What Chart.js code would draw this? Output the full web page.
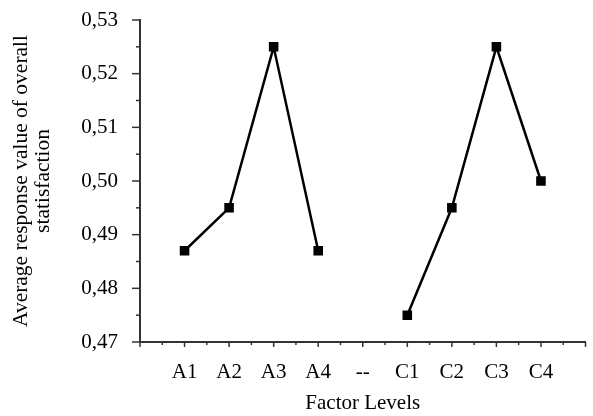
<!DOCTYPE html>
<html>
<head>
<meta charset="utf-8">
<script src="https://cdn.jsdelivr.net/npm/chart.js@4"></script>
<style>
  html, body { margin: 0; padding: 0; background: #fff; }
  #wrap { width: 593px; height: 416px; }
</style>
</head>
<body>
<div id="wrap"><canvas id="myChart"></canvas></div>
<script>
// factor levels along the x axis ('--' is the empty separator slot)
var levels = ['A1', 'A2', 'A3', 'A4', '--', 'C1', 'C2', 'C3', 'C4'];
// average response value of overall satisfaction per level
var responses = [0.487, 0.495, 0.525, 0.487, null, 0.475, 0.495, 0.525, 0.500];
var yMin = 0.47, yMax = 0.53;

var points = levels.map(function (l, i) { return {x: i + 1, y: responses[i]}; });

var axisColor = '#333';
var fontFam = '"Liberation Serif", "Times New Roman", serif';

// no extra edge padding from the tick labels
function noPad(s) {
  s.paddingTop = 0; s.paddingBottom = 0; s.paddingLeft = 0; s.paddingRight = 0;
}

// small tick marks: longer on whole steps, shorter half steps
var tickMarks = {
  id: 'tickMarks',
  afterDraw: function (chart) {
    var c = chart.ctx;
    c.save();
    c.strokeStyle = axisColor;
    c.lineWidth = 1.5;
    var xs = chart.scales.x, ys = chart.scales.y;
    xs.ticks.forEach(function (t) {
      var px = xs.getPixelForValue(t.value);
      var len = Number.isInteger(t.value) ? 5 : 3;
      c.beginPath(); c.moveTo(px, xs.top); c.lineTo(px, xs.top + len); c.stroke();
    });
    ys.ticks.forEach(function (t) {
      var py = ys.getPixelForValue(t.value);
      var major = Math.abs(Math.round(t.value * 100) - t.value * 100) < 1e-6;
      var len = major ? 8 : 4;
      c.beginPath(); c.moveTo(ys.right, py); c.lineTo(ys.right - len, py); c.stroke();
    });
    c.restore();
  }
};

var ctx = document.getElementById('myChart').getContext('2d');
var myChart = new Chart(ctx, {
  type: 'line',
  data: {
    datasets: [{
      data: points,
      borderColor: '#000',
      backgroundColor: '#000',
      borderWidth: 2.5,
      pointStyle: 'rect',
      pointRadius: 5,
      pointHoverRadius: 5,
      tension: 0,
      spanGaps: false
    }]
  },
  options: {
    responsive: true,
    maintainAspectRatio: false,
    animation: false,
    layout: { padding: { top: 20, right: 3, left: 0, bottom: 0 } },
    plugins: {
      legend: { display: false },
      tooltip: { enabled: false }
    },
    scales: {
      x: {
        type: 'linear',
        min: 0,
        max: levels.length + 1,
        grid: { display: false, drawTicks: false },
        border: { display: true, color: axisColor, width: 2 },
        afterFit: function (s) { s.height = 74; noPad(s); },
        ticks: {
          stepSize: 0.5,
          autoSkip: false,
          maxRotation: 0,
          padding: 18,
          color: '#000',
          font: { family: fontFam, size: 21 },
          callback: function (v) {
            if (!Number.isInteger(v)) return '';
            return levels[v - 1] || '';
          }
        },
        title: {
          display: true,
          text: 'Factor Levels',
          color: '#000',
          font: { family: fontFam, size: 21, lineHeight: 1.05 },
          padding: { top: 0, bottom: 1 }
        }
      },
      y: {
        min: yMin,
        max: yMax,
        grid: { display: false, drawTicks: false },
        border: { display: true, color: axisColor, width: 2 },
        afterFit: function (s) { s.width = 140; noPad(s); },
        ticks: {
          stepSize: 0.005,
          autoSkip: false,
          padding: 22,
          color: '#000',
          font: { family: fontFam, size: 21 },
          callback: function (v) {
            if (Math.abs(Math.round(v * 100) - v * 100) > 1e-6) return '';
            return v.toFixed(2).replace('.', ',');
          }
        },
        title: {
          display: true,
          text: ['Average response value of overall', 'statisfaction'],
          color: '#000',
          font: { family: fontFam, size: 21.5, lineHeight: 1.03 },
          padding: { top: 10, bottom: 0 }
        }
      }
    }
  },
  plugins: [tickMarks]
});
</script>
</body>
</html>
